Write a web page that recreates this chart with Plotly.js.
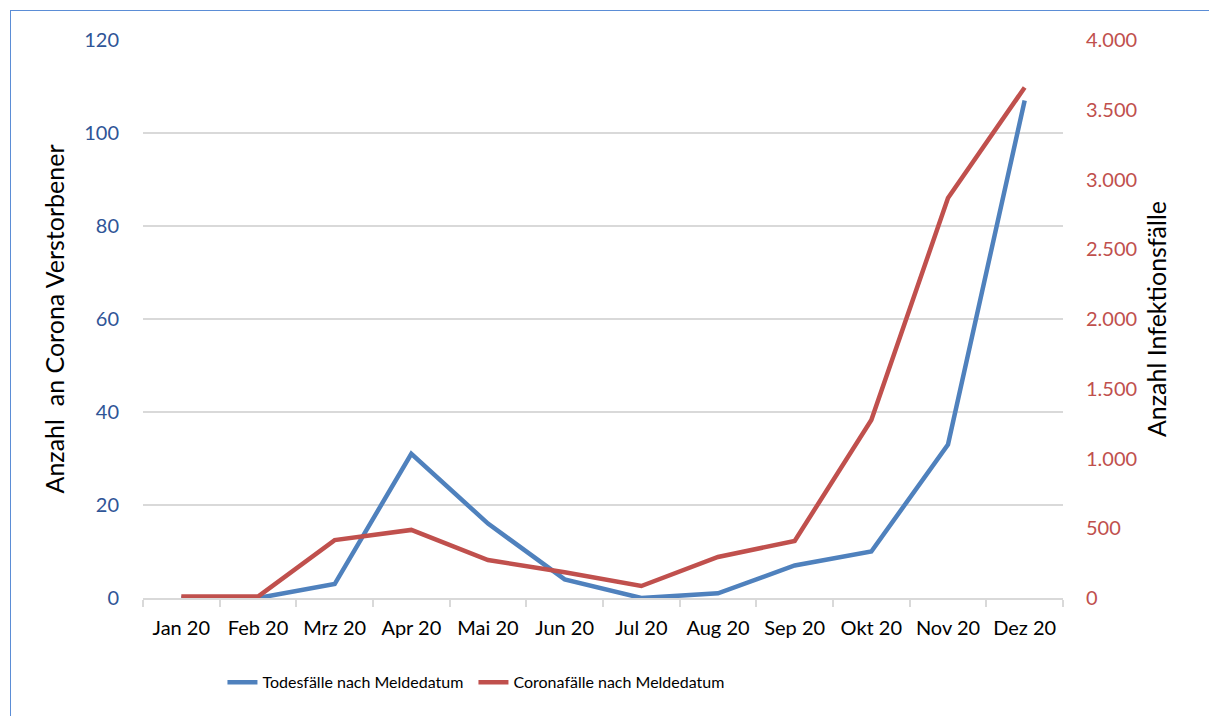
<!DOCTYPE html>
<html>
<head>
<meta charset="utf-8">
<script src="https://cdn.plot.ly/plotly-3.0.1.min.js"></script>
<style>
  html, body { margin: 0; padding: 0; background: #ffffff; overflow: hidden; }
  #frame { position: absolute; left: 10px; top: 10px; width: 1400px; height: 900px;
           border: 1.5px solid #5b8dd6; box-sizing: border-box; pointer-events: none; z-index: 2; }
  #chart { position: absolute; left: 0; top: 0; width: 1209px; height: 716px; }
</style>
</head>
<body>
<div id="chart"></div>
<div id="frame"></div>
<script>
// Monatliche Werte 2020
const months = ["Jan 20", "Feb 20", "Mrz 20", "Apr 20", "Mai 20", "Jun 20",
                "Jul 20", "Aug 20", "Sep 20", "Okt 20", "Nov 20", "Dez 20"];
const todesfaelle = [0, 0, 3, 31, 16, 4, 0, 1, 7, 10, 33, 107];
const coronafaelle = [10, 10, 415, 488, 272, 185, 86, 294, 409, 1276, 2867, 3660];

const leftTicks = [0, 20, 40, 60, 80, 100, 120];
const rightTicks = [0, 500, 1000, 1500, 2000, 2500, 3000, 3500, 4000];

const fontFamily = "Lato, 'Open Sans', sans-serif";
const gridColor = "#d9d9d9";

const traces = [
  {
    x: months, y: todesfaelle, type: "scatter", mode: "lines",
    name: "Todesfälle nach Meldedatum",
    line: { color: "#4f81bd", width: 4.5 },
    yaxis: "y"
  },
  {
    x: months, y: coronafaelle, type: "scatter", mode: "lines",
    name: "Coronafälle nach Meldedatum",
    line: { color: "#c0504d", width: 4.5 },
    yaxis: "y2"
  }
];

const layout = {
  width: 1209, height: 716,
  margin: { l: 143, r: 146, t: 40, b: 118, autoexpand: false },
  paper_bgcolor: "rgba(0,0,0,0)",
  plot_bgcolor: "rgba(0,0,0,0)",
  separators: ",.",
  font: { family: fontFamily, size: 19, color: "#000000" },
  showlegend: true,
  legend: {
    orientation: "h", xref: "container", x: 0.184, xanchor: "left",
    yref: "container", y: 0.047, yanchor: "middle",
    font: { family: fontFamily, size: 16, color: "#000000" },
    entrywidth: 206, entrywidthmode: "pixels",
    traceorder: "normal"
  },
  xaxis: {
    type: "category",
    range: [-0.5, 11.5],
    showgrid: false,
    showline: true, linecolor: gridColor, linewidth: 2,
    ticks: "outside", tickson: "boundaries", ticklen: 7, tickcolor: gridColor, tickwidth: 2,
    tickangle: 0,
    tickfont: { family: fontFamily, size: 20, color: "#000000" },
    ticklabelstandoff: 11,
    zeroline: false, fixedrange: true
  },
  yaxis: {
    range: [0, 120], tickvals: leftTicks, ticktext: leftTicks.map(String),
    showgrid: true, gridcolor: gridColor, gridwidth: 2,
    zeroline: false, showline: false, ticks: "",
    ticklabelstandoff: 23,
    tickfont: { family: fontFamily, size: 20, color: "#2f5597" },
    title: { text: "Anzahl  an Corona Verstorbener", font: { family: fontFamily, size: 25, color: "#000000" }, standoff: 12 }
  },
  yaxis2: {
    overlaying: "y", side: "right",
    range: [0, 4000], tickvals: rightTicks, tickformat: ",d",
    showgrid: false, zeroline: false, showline: false, ticks: "",
    ticklabelstandoff: 22,
    tickfont: { family: fontFamily, size: 20, color: "#c0504d" },
    title: { text: "Anzahl Infektionsfälle", font: { family: fontFamily, size: 25, color: "#000000" }, standoff: 12 }
  }
};

Plotly.newPlot("chart", traces, layout, { displayModeBar: false, staticPlot: true });
</script>
</body>
</html>
